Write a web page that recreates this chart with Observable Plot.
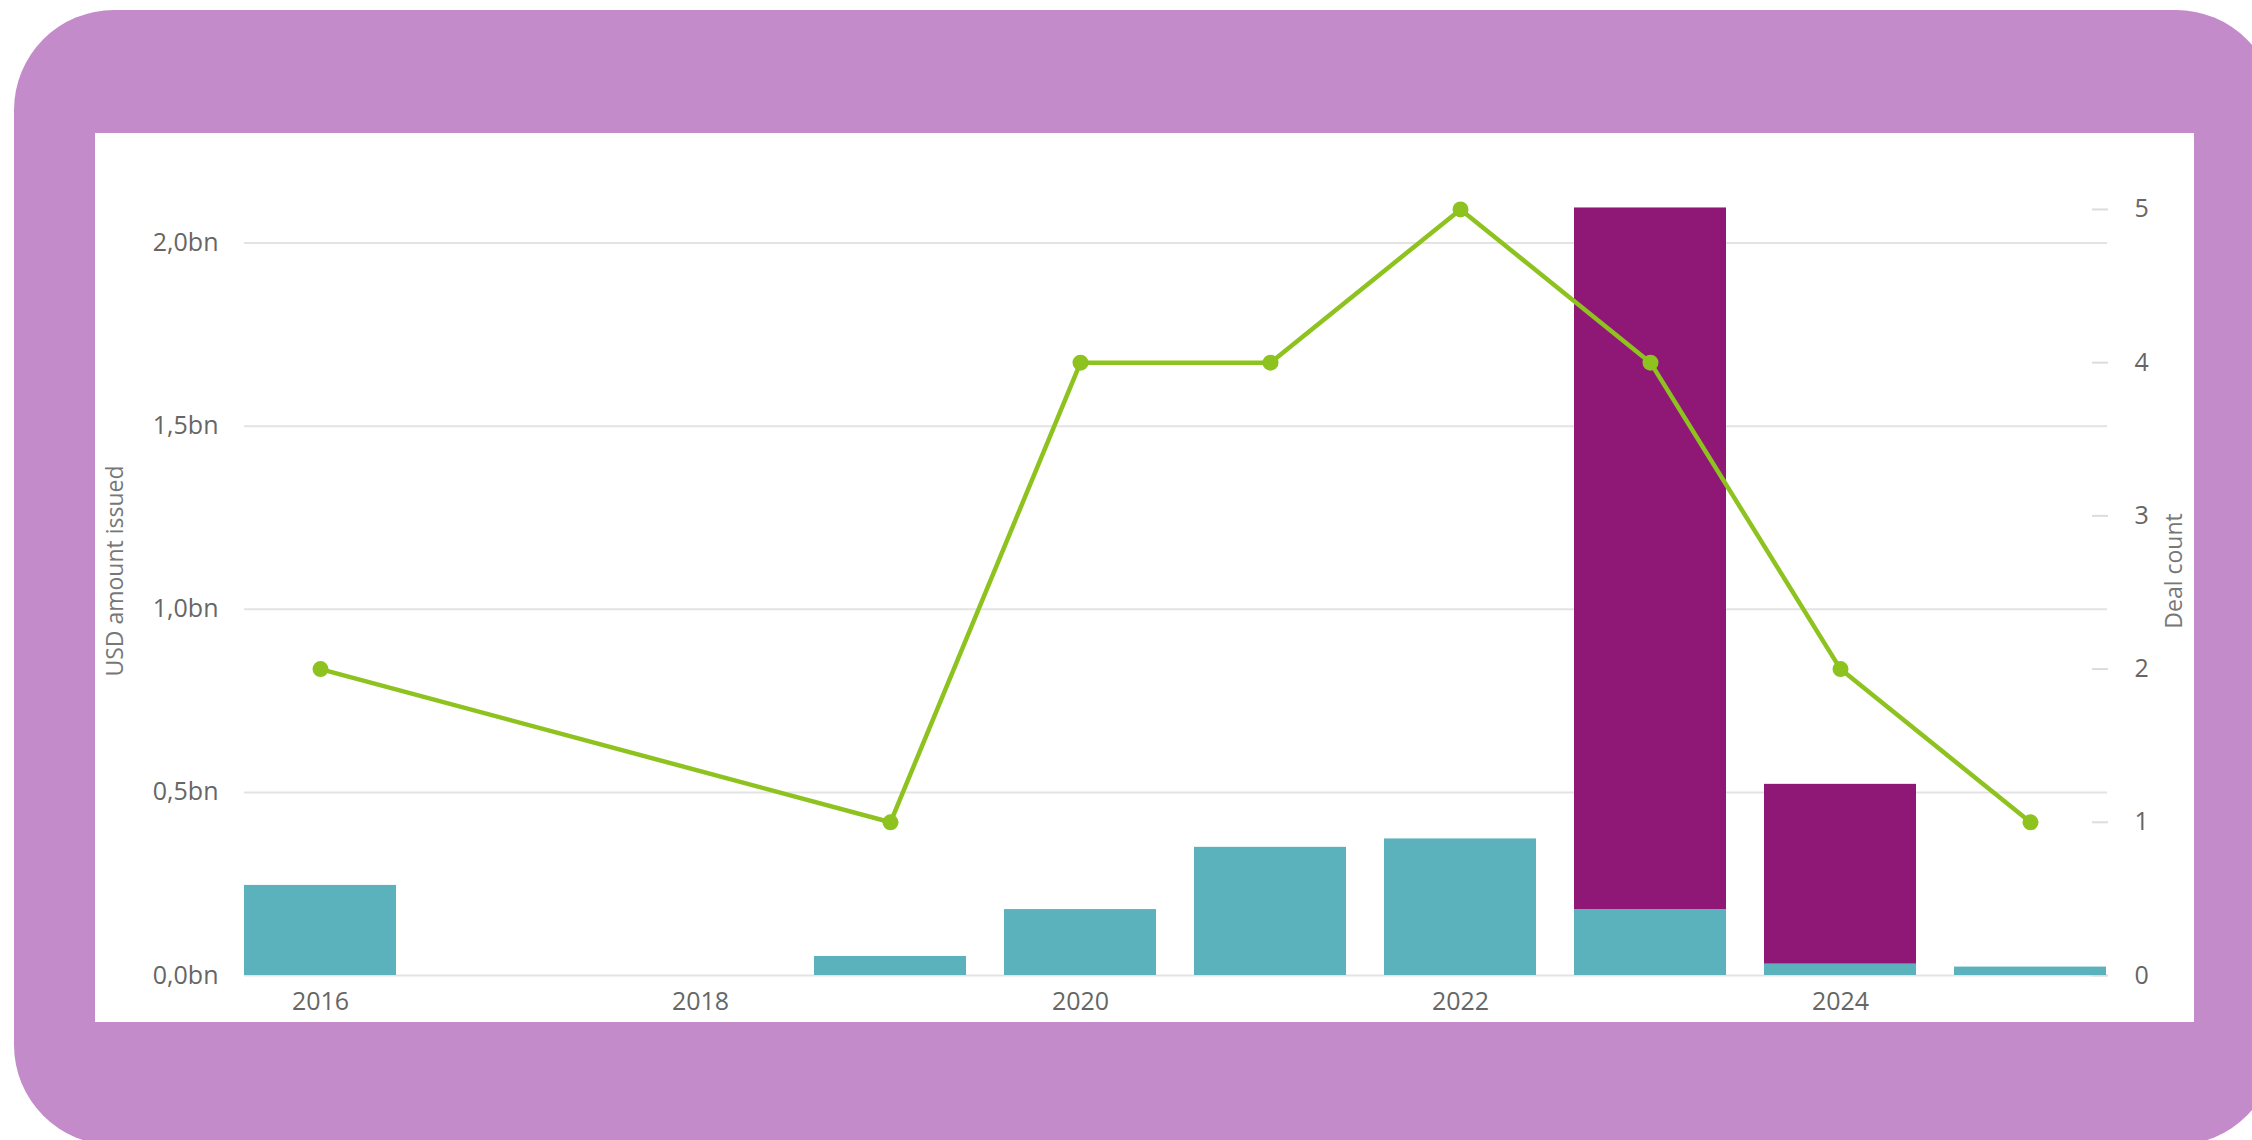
<!DOCTYPE html>
<html><head><meta charset="utf-8">
<script src="https://cdn.jsdelivr.net/npm/d3@7"></script>
<script src="https://cdn.jsdelivr.net/npm/@observablehq/plot@0.6"></script>
<style>
html,body{margin:0;padding:0;background:#fff;width:2252px;height:1140px;overflow:hidden;position:relative;}
#frame{position:absolute;left:14px;top:10px;width:2262px;height:1135px;border-radius:100px;background:#C48BCA;}
#panel{position:absolute;left:95px;top:133px;width:2099px;height:889px;background:#fff;}
#panel svg{display:block;}
</style></head><body>
<div id="frame"></div>
<div id="panel"></div>
<script>
// ---- data ----
const years = ["2016","2017","2018","2019","2020","2021","2022","2023","2024","2025"];
const seriesNames = ["Series 1", "Series 2"];
const seriesColors = ["#5BB2BD", "#8F1877"];
const tealValues   = [0.246, 0, 0, 0.052, 0.18, 0.35, 0.373, 0.18, 0.031, 0.023];
const purpleValues = [0, 0, 0, 0, 0, 0, 0, 1.916, 0.491, 0];
const dealYears  = ["2016","2019","2020","2021","2022","2023","2024","2025"];
const dealCounts = [2, 1, 4, 4, 5, 4, 2, 1];
const leftTicks = [0, 0.5, 1, 1.5, 2];
const dealTicks = [0, 1, 2, 3, 4, 5];
const xTickYears = ["2016","2018","2020","2022","2024"];
const leftTitle = "USD amount issued";
const rightTitle = "Deal count";
const lineColor = "#8DC21F";

// secondary axis: 5 deals aligns with ~2.092bn on the primary scale
const k = 2.092 / 5;

const rows = [];
years.forEach((y, i) => {
  rows.push({year: y, series: seriesNames[0], value: tealValues[i]});
  rows.push({year: y, series: seriesNames[1], value: purpleValues[i]});
});
const deals = dealYears.map((y, i) => ({year: y, count: dealCounts[i]}));

const font = "'Open Sans', 'Noto Sans', sans-serif";
const chart = Plot.plot({
  width: 2099, height: 889,
  marginLeft: 149, marginRight: 87, marginTop: 73, marginBottom: 47,
  style: {fontFamily: font, background: "transparent", overflow: "visible"},
  x: {type: "band", domain: years, paddingInner: 0.2, paddingOuter: 0, axis: null},
  y: {domain: [0, 2.1], axis: null},
  color: {domain: seriesNames, range: seriesColors},
  marks: [
    Plot.gridY(leftTicks, {stroke: "#e3e3e3", strokeOpacity: 1, strokeWidth: 2}),
    Plot.axisY(leftTicks, {anchor: "left", tickSize: 0, tickPadding: 26, label: null,
      tickFormat: d => d.toFixed(1).replace(".", ",") + "bn", fontSize: 25, fill: "#666"}),
    Plot.axisY(dealTicks.map(d => d * k), {anchor: "right", tickSize: 16, dx: -16, label: null,
      stroke: "#dcdcdc", strokeWidth: 2, fill: "none"}),
    Plot.axisY(dealTicks.map(d => d * k), {anchor: "right", tickSize: 0, tickPadding: 27, label: null,
      tickFormat: d => String(Math.round(d / k)), fontSize: 25, fill: "#666"}),
    Plot.axisX(xTickYears, {anchor: "bottom", tickSize: 0, tickPadding: 17, label: null, fontSize: 25, fill: "#666"}),
    Plot.barY(rows, {x: "year", y: "value", fill: "series"}),
    Plot.line(deals, {x: "year", y: d => d.count * k, stroke: lineColor, strokeWidth: 4.5, strokeLinejoin: "round"}),
    Plot.dot(deals, {x: "year", y: d => d.count * k, r: 8, fill: lineColor}),
    Plot.text([leftTitle], {text: d => d, frameAnchor: "left", textAnchor: "middle", rotate: -90, dx: -129, dy: -20, fontSize: 23, fill: "#777"}),
    Plot.text([rightTitle], {text: d => d, frameAnchor: "right", textAnchor: "middle", rotate: -90, dx: 67, dy: -20, fontSize: 23, fill: "#777"})
  ]
});
document.getElementById("panel").appendChild(chart);
</script>
</body></html>
